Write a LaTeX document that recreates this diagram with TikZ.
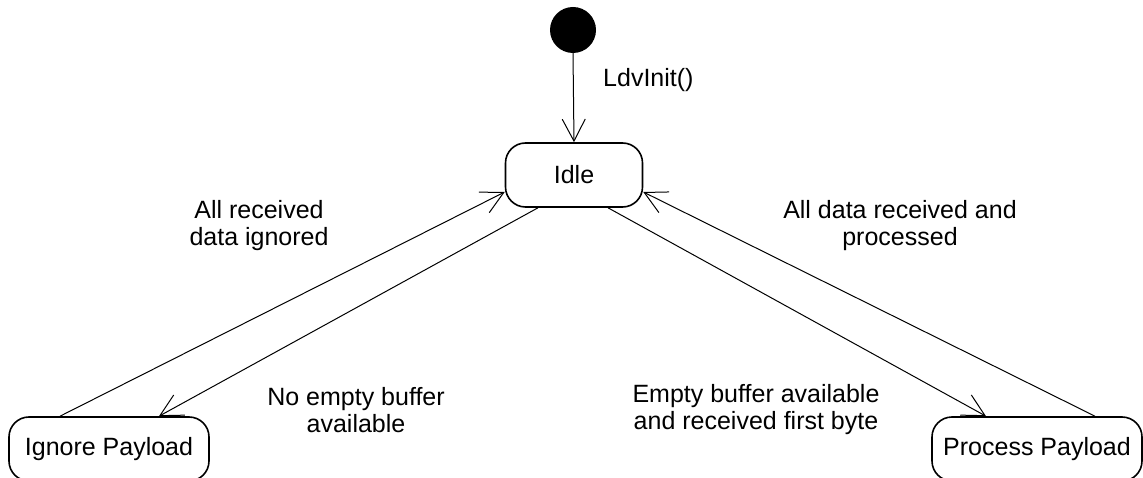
\documentclass[tikz,border=0pt]{standalone}
\usepackage{fontspec}
\setmainfont{Liberation Sans}
\usetikzlibrary{arrows.meta}
\begin{document}
\begin{tikzpicture}[x=1pt,y=-1pt,
  state/.style={draw,line width=1.6pt,rounded corners=20pt,minimum height=64pt,inner sep=0pt,
    font=\fontsize{25pt}{27pt}\selectfont},
  lbl/.style={align=center,inner sep=0pt,font=\fontsize{25pt}{27pt}\selectfont},
  arr/.style={line width=1pt,-{Straight Barb[length=22pt,width=23pt,line width=1pt]}}]
\useasboundingbox (0,0) rectangle (1143,478);
\node[circle,fill=black,minimum size=46pt,inner sep=0pt] (init) at (573,30) {};
\node[state,minimum width=137pt] (idle) at (574,175) {Idle};
\node[state,minimum width=200pt] (ignore) at (109,449) {Ignore Payload};
\node[state,minimum width=210pt] (process) at (1037,449) {Process Payload};
\draw[arr] (init.south) -- (idle.north);
\draw[arr] ([xshift=-49pt]ignore.north) -- ([yshift=-17pt]idle.west);
\draw[arr] ([xshift=-36pt]idle.south) -- ([xshift=50pt]ignore.north);
\draw[arr] ([xshift=34pt]idle.south) -- ([xshift=-51pt]process.north);
\draw[arr] ([xshift=58pt]process.north) -- ([yshift=-17pt]idle.east);
\node[lbl,anchor=west] (l0) at (603,80) {LdvInit()};
\node[lbl] (l1) at (259,226) {All received\\data ignored};
\node[lbl] (l2) at (356,410) {No empty buffer\\available};
\node[lbl] (l3) at (756,410) {Empty buffer available\\and received first byte};
\node[lbl] (l4) at (900,226) {All data received and\\processed};
\end{tikzpicture}
\end{document}
